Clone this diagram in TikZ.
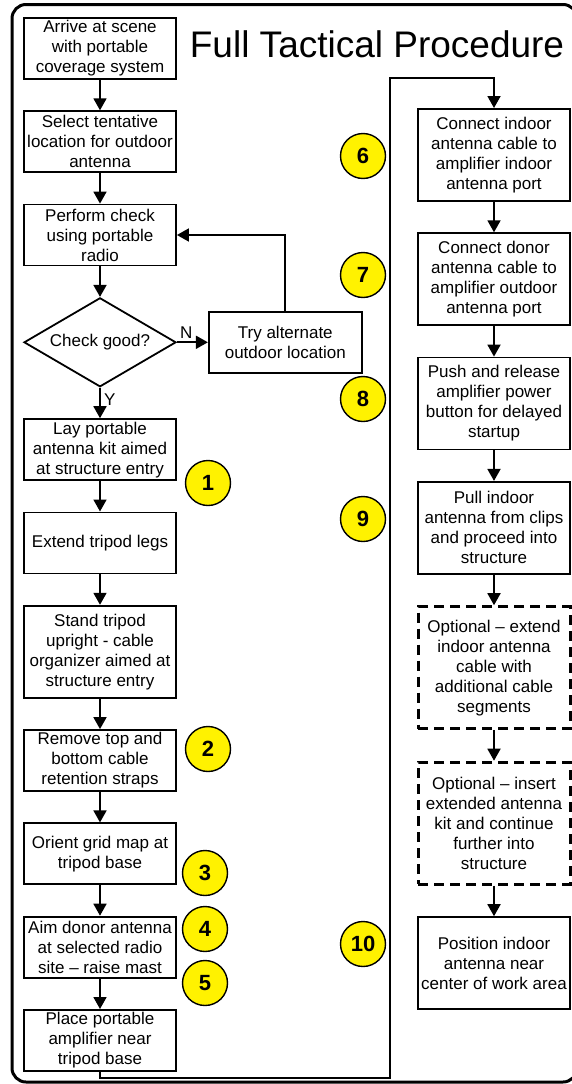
\documentclass[tikz,border=0pt]{standalone}
\usepackage{fontspec}
\setmainfont{Liberation Sans}
\usetikzlibrary{positioning}
\usetikzlibrary{shapes.geometric,arrows.meta}

\begin{document}
\begin{tikzpicture}[x=1pt,y=1pt,node distance=30.5pt,
    stepbox/.style={draw, line width=1.8pt, minimum width=152pt, minimum height=61pt, inner sep=2pt, align=center, font=\fontsize{17}{20}\selectfont},
    tallbox/.style={stepbox, minimum height=92pt},
    optbox/.style={stepbox, minimum height=122pt, line width=3pt, dash pattern=on 10pt off 6pt},
    checknode/.style={diamond, draw, line width=1.8pt, minimum width=152pt, minimum height=89pt, inner sep=0pt, aspect=1.7, font=\fontsize{17}{20}\selectfont},
    numdot/.style={circle, draw, fill=yellow, line width=1.4pt, minimum size=45pt, inner sep=0pt, font=\fontsize{22}{24}\selectfont\bfseries},
    flow/.style={line width=1.8pt, -{Triangle[length=12pt,width=13pt]}},
    lbl/.style={font=\fontsize{17}{20}\selectfont}]
            \useasboundingbox (0,0) rectangle (571,-1084);
            \draw[line width=3pt, rounded corners=14pt] (12,-4.5) rectangle (577,-1082);
            \node[font=\fontsize{37}{44}\selectfont, anchor=base] (title) at (377,-57) {Full Tactical Procedure};
            %Left column
            \node[stepbox, anchor=north] (arrive) at (100,-17) {Arrive at scene\\with portable\\coverage system};
            \node[stepbox] (selectLoc) [below=of arrive] {Select tentative\\location for outdoor\\antenna};
            \node[stepbox] (perfCheck) [below=of selectLoc] {Perform check\\using portable\\radio};
            \node[checknode] (checkGood) [below=of perfCheck] {Check good?};
            \node[stepbox, minimum width=153pt] (tryAlt) [right=31pt of checkGood] {Try alternate\\outdoor location};
            \node[stepbox] (layKit) [below=of checkGood] {Lay portable\\antenna kit aimed\\at structure entry};
            \node[stepbox] (extendLegs) [below=of layKit] {Extend tripod legs};
            \node[tallbox] (standTripod) [below=of extendLegs] {Stand tripod\\upright - cable\\organizer aimed at\\structure entry};
            \node[stepbox] (removeStraps) [below=of standTripod] {Remove top and\\bottom cable\\retention straps};
            \node[stepbox] (orientMap) [below=of removeStraps] {Orient grid map at\\tripod base};
            \node[stepbox] (aimDonor) [below=of orientMap] {Aim donor antenna\\at selected radio\\site – raise mast};
            \node[stepbox] (placeAmp) [below=of aimDonor] {Place portable\\amplifier near\\tripod base};
            %Right column
            \node[tallbox, anchor=north] (connIndoor) at (494,-108) {Connect indoor\\antenna cable to\\amplifier indoor\\antenna port};
            \node[tallbox] (connDonor) [below=of connIndoor] {Connect donor\\antenna cable to\\amplifier outdoor\\antenna port};
            \node[tallbox] (pushPower) [below=of connDonor] {Push and release\\amplifier power\\button for delayed\\startup};
            \node[tallbox] (pullIndoor) [below=of pushPower] {Pull indoor\\antenna from clips\\and proceed into\\structure};
            \node[optbox] (optExtend) [below=of pullIndoor] {Optional – extend\\indoor antenna\\cable with\\additional cable\\segments};
            \node[optbox] (optInsert) [below=of optExtend] {Optional – insert\\extended antenna\\kit and continue\\further into\\structure};
            \node[tallbox] (posIndoor) [below=of optInsert] {Position indoor\\antenna near\\center of work area};
            %Numbers
            \node[numdot] (num1) at (208,-483) {1};
            \node[numdot] (num2) at (208,-749) {2};
            \node[numdot] (num3) at (205,-873) {3};
            \node[numdot] (num4) at (205,-929) {4};
            \node[numdot] (num5) at (205,-983) {5};
            \node[numdot] (num6) at (363,-156) {6};
            \node[numdot] (num7) at (363,-275) {7};
            \node[numdot] (num8) at (363,-399) {8};
            \node[numdot] (num9) at (363,-519) {9};
            \node[numdot] (num10) at (363,-944) {10};
            %Connectors
            \coordinate (trunkBot) at (390,-1078);
            \coordinate (trunkTop) at (390,-78);
            \draw[flow] (arrive) -- (selectLoc);
            \draw[flow] (selectLoc) -- (perfCheck);
            \draw[flow] (perfCheck) -- (checkGood);
            \draw[flow] (checkGood.east) -- (tryAlt.west) node[lbl, pos=0.3, above] (lblN) {N};
            \draw[flow] (tryAlt.north) |- (perfCheck.east);
            \draw[flow] (checkGood.south) -- (layKit.north) node[lbl, pos=0.4, right] (lblY) {Y};
            \draw[flow] (layKit) -- (extendLegs);
            \draw[flow] (extendLegs) -- (standTripod);
            \draw[flow] (standTripod) -- (removeStraps);
            \draw[flow] (removeStraps) -- (orientMap);
            \draw[flow] (orientMap) -- (aimDonor);
            \draw[flow] (aimDonor) -- (placeAmp);
            \draw[flow] (placeAmp.south) |- (trunkBot) -- (trunkTop) -| (connIndoor.north);
            \draw[flow] (connIndoor) -- (connDonor);
            \draw[flow] (connDonor) -- (pushPower);
            \draw[flow] (pushPower) -- (pullIndoor);
            \draw[flow] (pullIndoor) -- (optExtend);
            \draw[flow] (optExtend) -- (optInsert);
            \draw[flow] (optInsert) -- (posIndoor);
        \end{tikzpicture}
\end{document}
